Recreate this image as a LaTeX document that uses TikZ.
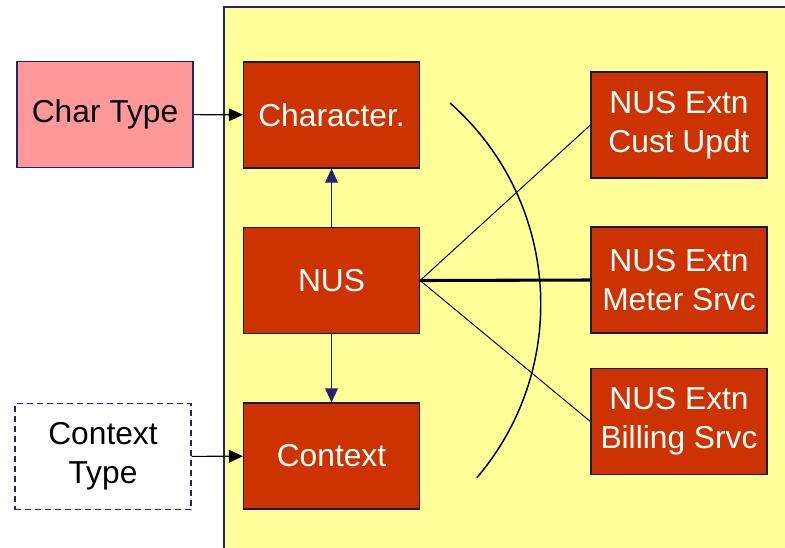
\documentclass[tikz,border=0pt]{standalone}
\usepackage{fontspec}
\setmainfont{Liberation Sans}
\definecolor{panelyellow}{RGB}{255,255,153}
\definecolor{unitred}{RGB}{204,51,0}
\definecolor{typepink}{RGB}{255,153,153}
\definecolor{edgenavy}{RGB}{36,36,110}
\usetikzlibrary{arrows.meta, positioning}

\begin{document}
\begin{tikzpicture}[x=0.75pt, y=-0.75pt,
  box/.style={line width=0.9pt, minimum width=132pt, minimum height=79.5pt,
    align=center, inner sep=0pt, font=\fontsize{23.8}{29.5}\selectfont},
  unit/.style={box, draw=edgenavy!70!black, fill=unitred, text=white},
  typebox/.style={box, draw=edgenavy},
  feed/.style={-{Triangle[length=10.5pt, width=9.5pt]}, line width=0.8pt},
  ext/.style={line width=0.7pt}]
  \useasboundingbox (0,0) rectangle (785,547);
  \fill[panelyellow] (224,7) rectangle (800,560);
  \draw[edgenavy, line width=0.9pt] (224,560) -- (224,7) -- (800,7);

  \node[typebox, fill=typepink] (chartype) at (105,114.5) {Char Type};
  \node[typebox, fill=white, dash pattern=on 4.5pt off 3pt] (contexttype) at (103,456.5) {Context\\Type};
  \node[unit] (character) at (331.5,115) {Character.};
  \node[unit] (nus) at (331.5,280.5) {NUS};
  \node[unit] (context) at (331.5,456) {Context};
  \node[unit] (custupdt) at (679,125) {NUS Extn\\Cust Updt};
  \node[unit] (metersrvc) at (679,280) {NUS Extn\\Meter Srvc};
  \node[unit] (billingsrvc) at (679,421.5) {NUS Extn\\Billing Srvc};

  \draw[feed] (chartype) -- (character);
  \draw[feed] (contexttype) -- (context);
  \draw[feed, edgenavy] (nus) -- (character);
  \draw[feed, edgenavy] (nus) -- (context);

  \draw[ext] (nus.east) -- (custupdt.west);
  \draw[ext, line width=2.3pt] (nus.east) -- (metersrvc.west);
  \draw[ext] (nus.east) -- (billingsrvc.west);

  \coordinate (arctop) at (450,103);
  \draw[line width=1.1pt] (arctop) arc[start angle=48.6, end angle=-40.4, radius=201pt];
\end{tikzpicture}
\end{document}
